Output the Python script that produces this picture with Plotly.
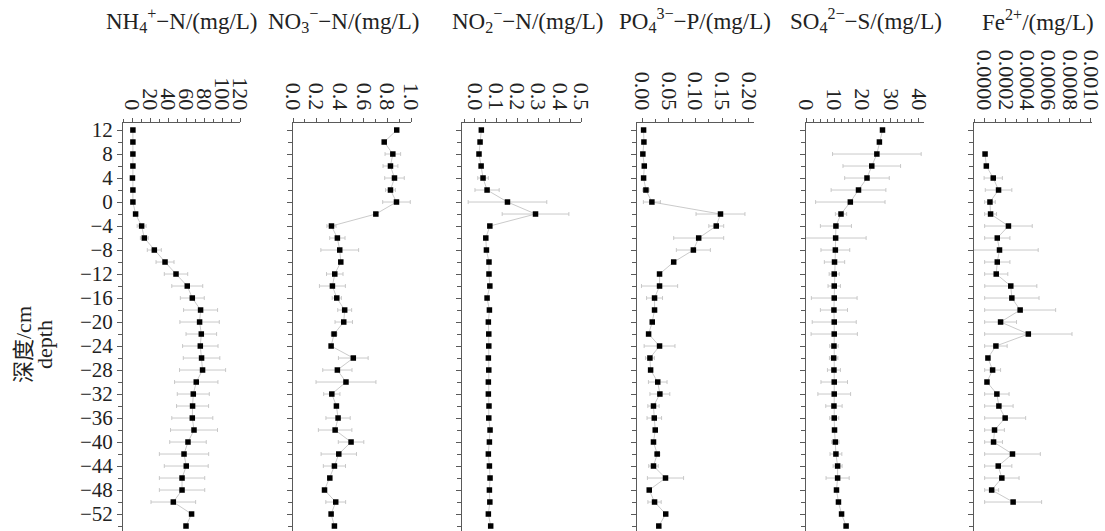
import plotly.graph_objects as go

W, H = 1105, 531

depth = [12, 10, 8, 6, 4, 2, 0, -2, -4, -6, -8, -10, -12, -14, -16, -18, -20, -22,
         -24, -26, -28, -30, -32, -34, -36, -38, -40, -42, -44, -46, -48, -50, -52, -54]
depth_fe = [8, 6, 4, 2, 0, -2, -4, -6, -8, -10, -12, -14, -16, -18, -20, -22, -24,
            -26, -28, -30, -32, -34, -36, -38, -40, -42, -44, -46, -48, -50]

nh4 = [1.0, 1.0, 1.0, 1.0, 0.5, 1.0, 1.0, 4.0, 10.7, 13.7, 24.8, 36.7, 48.9, 61.4, 67.0, 76.2,
       75.1, 77.0, 75.9, 77.3, 78.4, 71.4, 68.1, 67.3, 67.0, 68.9, 62.2, 57.8, 60.3, 55.6,
       55.6, 45.9, 66.2, 60.0]
nh4_err = [0, 0, 0, 0, 0, 0, 0, 0, 5.0, 4.4, 7.8, 10.0, 13.0, 17.2, 13.3, 18.9, 21.9, 17.0,
           19.7, 20.3, 25.6, 24.1, 17.8, 17.8, 22.8, 26.1, 20.3, 27.4, 24.4, 25.2, 25.2, 24.8,
           0, 0]

no3 = [0.879, 0.773, 0.846, 0.826, 0.86, 0.826, 0.877, 0.702, 0.326, 0.376, 0.396, 0.405,
       0.354, 0.334, 0.371, 0.438, 0.43, 0.348, 0.323, 0.511, 0.376, 0.449, 0.329, 0.368,
       0.382, 0.357, 0.492, 0.388, 0.351, 0.312, 0.267, 0.362, 0.323, 0.351]
no3_err = [0, 0, 0.066, 0.063, 0.083, 0.042, 0.117, 0, 0.039, 0.065, 0.16, 0, 0.07, 0.11,
           0.039, 0.059, 0.074, 0.024, 0, 0.126, 0.124, 0.254, 0.069, 0, 0.103, 0.142, 0.108,
           0.15, 0.094, 0, 0, 0.084, 0, 0]

no2 = [0.031, 0.025, 0.020, 0.030, 0.039, 0.058, 0.154, 0.286, 0.071, 0.052, 0.055, 0.067,
       0.067, 0.071, 0.058, 0.069, 0.064, 0.066, 0.066, 0.064, 0.066, 0.064, 0.064, 0.067,
       0.066, 0.072, 0.069, 0.064, 0.069, 0.072, 0.069, 0.071, 0.064, 0.075]
no2_err = [0, 0, 0, 0, 0.025, 0.057, 0.185, 0.157, 0, 0, 0, 0, 0, 0, 0, 0, 0, 0, 0, 0, 0, 0,
           0, 0, 0, 0, 0, 0, 0, 0, 0, 0, 0, 0]

po4 = [0.0024, 0.003, 0.001, 0.0037, 0.0024, 0.0068, 0.018, 0.147, 0.139, 0.106, 0.096,
       0.059, 0.0324, 0.0324, 0.023, 0.023, 0.0187, 0.0118, 0.0324, 0.0143, 0.0156, 0.029,
       0.033, 0.021, 0.0225, 0.0243, 0.021, 0.028, 0.021, 0.0436, 0.013, 0.023, 0.044, 0.031]
po4_err = [0, 0, 0, 0, 0, 0.006, 0.016, 0.046, 0.014, 0.047, 0.032, 0, 0, 0.034, 0.015, 0,
           0, 0, 0.029, 0.0084, 0, 0.0175, 0.0187, 0.0106, 0.0137, 0, 0, 0.005, 0.009, 0.034,
           0, 0.0125, 0, 0]

so4 = [27.1, 26.0, 25.1, 23.3, 21.6, 18.6, 15.7, 12.4, 10.6, 10.5, 10.4, 10.1, 10.0, 10.0,
       10.0, 9.9, 10.0, 10.0, 9.9, 9.8, 9.9, 10.0, 10.0, 9.9, 10.0, 10.1, 10.4, 10.6, 11.2,
       11.2, 10.8, 11.5, 12.6, 14.2]
so4_err = [0, 0, 15.7, 10.2, 7.9, 9.7, 12.3, 2.0, 5.5, 10.8, 5.1, 3.6, 1.8, 2.2, 8.1, 4.8,
           7.8, 8.2, 1.5, 1.5, 2.3, 4.7, 5.8, 2.9, 1.6, 0, 1.3, 2.1, 1.6, 4.1, 0, 0, 0, 0]

fe = [0.000004, 0.000016, 0.000081, 0.000131, 0.000050, 0.000056, 0.000224, 0.000119,
      0.000140, 0.000119, 0.000109, 0.000246, 0.000256, 0.000334, 0.000150, 0.000411,
      0.000106, 0.000031, 0.000075, 0.000022, 0.000115, 0.000134, 0.000193, 0.000093,
      0.000084, 0.000262, 0.000128, 0.000162, 0.000066, 0.000268]
fe_err = [0, 0, 0.000086, 0.000125, 0.000050, 0.000056, 0.000224, 0.000119, 0.000364,
          0.000119, 0.000109, 0.000245, 0.000256, 0.000334, 0.000150, 0.000411, 0.000106,
          0, 0.000075, 0, 0.000115, 0.000134, 0.000193, 0.000093, 0.000084, 0.000262,
          0.000128, 0.000162, 0.000066, 0.000268]

titles = ["NH<sub>4</sub><sup>+</sup>−N/(mg/L)", "NO<sub>3</sub><sup>−</sup>−N/(mg/L)",
          "NO<sub>2</sub><sup>−</sup>−N/(mg/L)", "PO<sub>4</sub><sup>3−</sup>−P/(mg/L)",
          "SO<sub>4</sub><sup>2−</sup>−S/(mg/L)", "Fe<sup>2+</sup>/(mg/L)"]
title_cx = [181.5, 343, 527, 695, 866, 1037.5]
ytitle_lines = ["深度/cm", "depth"]

# pixel domains of each panel
dom_px = [(123, 240), (293, 411), (462, 581), (637, 754), (806, 924), (974, 1092)]
xranges = [[-10, 120], [0, 1.0], [-0.06, 0.5], [-0.01, 0.21], [0, 41.8], [-0.0001, 0.00101]]
dticks = [20, 0.2, 0.1, 0.05, 10, 0.0002]
mdticks = [10, 0.1, 0.05, 0.025, 2.5, 0.0001]
tfmt = ["d", ".1f", ".1f", ".2f", "d", ".4f"]

series = [(depth, nh4, nh4_err), (depth, no3, no3_err), (depth, no2, no2_err),
          (depth, po4, po4_err), (depth, so4, so4_err), (depth_fe, fe, fe_err)]

top_m = 123
plot_h = H - top_m
YR = [-54.83, 13.17]

FONT = "Liberation Serif, Times New Roman, serif"
AX = "#5a5a5a"

fig = go.Figure()
for i, (ys, xs, es) in enumerate(series):
    k = "" if i == 0 else str(i + 1)
    fig.add_trace(go.Scatter(
        x=xs, y=ys, mode="lines+markers", xaxis="x" + k, yaxis="y" + k,
        line=dict(color="#bdbdbd", width=0.8),
        marker=dict(symbol="square", size=5.5, color="black"),
        error_x=dict(type="data", array=es, color="#bcbcbc", thickness=0.8, width=2),
        showlegend=False, cliponaxis=False))
    d0, d1 = dom_px[i]
    fig.layout["xaxis" + k] = dict(
        domain=[d0 / W, d1 / W], range=xranges[i], side="top", anchor="y" + k,
        automargin=False,
        showline=True, linecolor=AX, linewidth=1, ticks="outside", ticklen=4,
        tickcolor=AX, tickangle=90, dtick=dticks[i], tick0=0, tickformat=tfmt[i],
        minor=dict(dtick=mdticks[i], ticks="outside", ticklen=3, tickcolor=AX),
        showgrid=False, zeroline=False,
        tickfont=dict(family=FONT, size=22, color="#222"))
    fig.layout["yaxis" + k] = dict(
        domain=[0, 1], range=YR, anchor="x" + k, showline=True, linecolor=AX,
        automargin=False,
        linewidth=1, ticks="outside", ticklen=5, tickcolor=AX, dtick=4, tick0=0,
        minor=dict(dtick=2, ticks="outside", ticklen=4, tickcolor=AX),
        showgrid=False, zeroline=False, showticklabels=(i == 0),
        tickfont=dict(family=FONT, size=21, color="#222"))
    fig.add_annotation(
        text=titles[i], x=title_cx[i] / W, xref="paper", xanchor="center",
        y=1 + (top_m - 20) / plot_h, yref="paper", yanchor="middle",
        showarrow=False, font=dict(family=FONT, size=23, color="#222"))

for txt, cx in zip(ytitle_lines, [23, 44]):
    fig.add_annotation(
        text=txt, x=cx / W, xref="paper", xanchor="center",
        y=(H - 345) / plot_h, yref="paper", yanchor="middle", textangle=-90,
        showarrow=False, font=dict(family="Liberation Serif, Noto Sans CJK SC", size=22,
                                   color="#222"))

fig.update_layout(
    width=W, height=H, margin=dict(l=0, r=0, t=top_m, b=0, autoexpand=False),
    paper_bgcolor="white", plot_bgcolor="white",
    font=dict(family=FONT, color="#222"))

fig.write_html("out.html")
